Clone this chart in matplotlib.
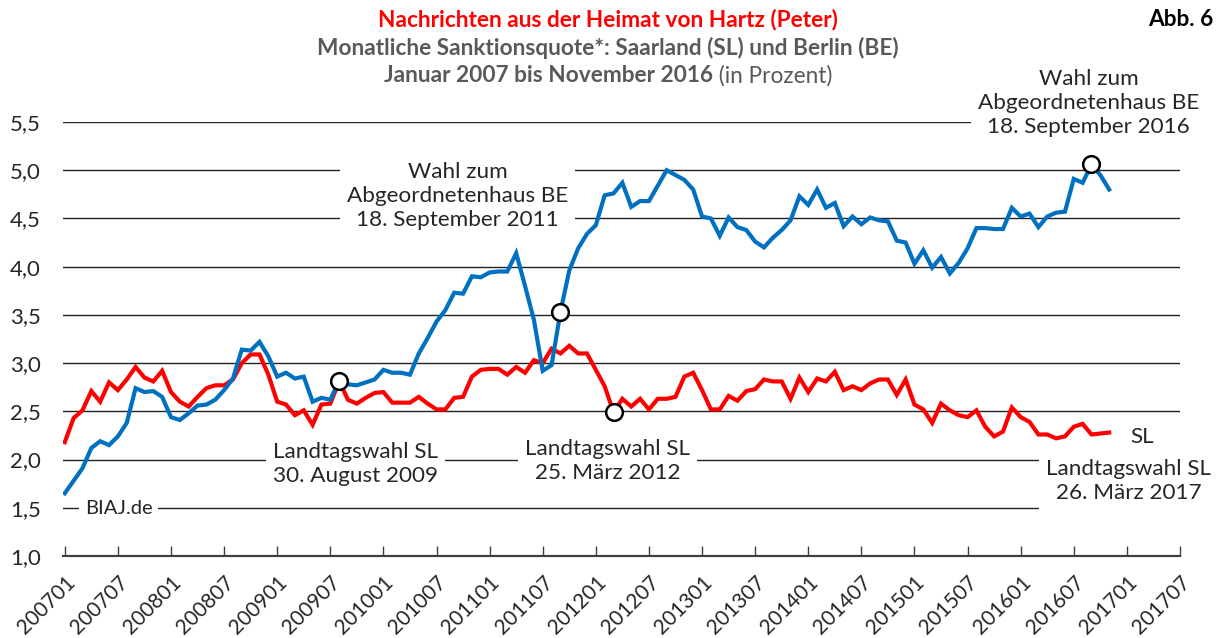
import matplotlib
matplotlib.use("Agg")
import matplotlib.pyplot as plt
import numpy as np

plt.rcParams['font.family'] = ['Lato', 'DejaVu Sans']

# ---- data (monthly sanction rate in %, Jan 2007 - Nov 2016) ----
be_values = [
    1.65, 1.78, 1.91, 2.12, 2.19, 2.15, 2.24, 2.38, 2.74, 2.70, 2.71, 2.65,
    2.44, 2.41, 2.48, 2.56, 2.57, 2.62, 2.72, 2.84, 3.14, 3.13, 3.22, 3.07,
    2.86, 2.90, 2.84, 2.86, 2.60, 2.64, 2.62, 2.82, 2.78, 2.77, 2.80, 2.83,
    2.93, 2.90, 2.90, 2.88, 3.10, 3.26, 3.43, 3.55, 3.73, 3.72, 3.90, 3.89,
    3.94, 3.95, 3.95, 4.14, 3.80, 3.45, 2.92, 2.98, 3.53, 3.96, 4.19, 4.34,
    4.43, 4.74, 4.76, 4.87, 4.62, 4.68, 4.68, 4.84, 5.00, 4.95, 4.90, 4.80,
    4.52, 4.50, 4.32, 4.51, 4.41, 4.38, 4.26, 4.20, 4.30, 4.38, 4.48, 4.73,
    4.64, 4.80, 4.61, 4.66, 4.42, 4.52, 4.44, 4.51, 4.48, 4.47, 4.27, 4.25,
    4.03, 4.17, 3.99, 4.10, 3.93, 4.04, 4.19, 4.40, 4.40, 4.39, 4.39, 4.61,
    4.52, 4.55, 4.41, 4.52, 4.56, 4.57, 4.91, 4.87, 5.06, 4.95, 4.80,
]
sl_values = [
    2.18, 2.43, 2.51, 2.71, 2.60, 2.80, 2.72, 2.83, 2.96, 2.85, 2.81, 2.92,
    2.70, 2.60, 2.55, 2.65, 2.74, 2.77, 2.77, 2.83, 3.00, 3.09, 3.09, 2.88,
    2.60, 2.57, 2.46, 2.51, 2.36, 2.57, 2.58, 2.81, 2.62, 2.58, 2.64, 2.69,
    2.70, 2.59, 2.59, 2.59, 2.65, 2.58, 2.52, 2.52, 2.64, 2.65, 2.86, 2.93,
    2.94, 2.94, 2.88, 2.96, 2.90, 3.03, 3.00, 3.15, 3.10, 3.18, 3.10, 3.10,
    2.93, 2.76, 2.49, 2.63, 2.55, 2.63, 2.52, 2.63, 2.63, 2.65, 2.86, 2.90,
    2.72, 2.52, 2.52, 2.66, 2.61, 2.71, 2.73, 2.83, 2.81, 2.81, 2.63, 2.85,
    2.70, 2.84, 2.81, 2.91, 2.72, 2.76, 2.72, 2.79, 2.83, 2.83, 2.67, 2.83,
    2.57, 2.52, 2.38, 2.58, 2.51, 2.46, 2.44, 2.51, 2.34, 2.24, 2.29, 2.54,
    2.44, 2.39, 2.26, 2.26, 2.22, 2.24, 2.34, 2.37, 2.26, 2.27, 2.28,
]
x_tick_labels = ['200701', '200707', '200801', '200807', '200901', '200907',
                 '201001', '201007', '201101', '201107', '201201', '201207',
                 '201301', '201307', '201401', '201407', '201501', '201507',
                 '201601', '201607', '201701', '201707']
y_ticks = [1.0, 1.5, 2.0, 2.5, 3.0, 3.5, 4.0, 4.5, 5.0, 5.5]
y_tick_labels = ['1,0', '1,5', '2,0', '2,5', '3,0', '3,5', '4,0', '4,5', '5,0', '5,5']

# election markers: month index
be_events = [56, 116]          # Sep 2011, Sep 2016
sl_events = [31, 62]           # Aug 2009, Mar 2012

# ---- figure ----
fig = plt.figure(figsize=(12.16, 6.38), dpi=100)
ax = fig.add_axes([63 / 1216, 1 - 556 / 638, (1180 - 63) / 1216, (556 - 122) / 638])

x = np.arange(len(be_values))
be = np.array(be_values)
sl = np.array(sl_values)

for yv in y_ticks[1:]:
    ax.axhline(yv, color='#222222', lw=1.0, zorder=1)

ax.plot(x, sl, color='#FF0000', lw=3.0, solid_joinstyle='miter', zorder=4)
ax.plot(x, be, color='#0070C0', lw=3.0, solid_joinstyle='miter', zorder=4)

ax.plot(np.array(be_events), be[be_events], 'o', ms=12, mfc='white', mec='black',
        mew=1.8, zorder=6)
ax.plot(np.array(sl_events), sl[sl_events], 'o', ms=12, mfc='white', mec='black',
        mew=1.8, zorder=6)

ax.set_xlim(-0.2, 126)
ax.set_ylim(1.0, 5.5)
ax.set_xticks(np.arange(0, 127, 6))
ax.set_xticklabels(x_tick_labels, rotation=45, ha='right', va='top',
                   rotation_mode='anchor', fontsize=15, color='#262626')
ax.set_yticks(y_ticks)
ax.set_yticklabels(y_tick_labels, fontsize=16, color='#262626')
ax.tick_params(axis='y', length=0, pad=16)
ax.tick_params(axis='x', direction='in', length=7, width=1.0, color='#404040', pad=12)
for s in ['top', 'right', 'left']:
    ax.spines[s].set_visible(False)
ax.spines['bottom'].set_color('#404040')
ax.spines['bottom'].set_linewidth(1.6)
ax.patch.set_alpha(0)

box = dict(facecolor='white', edgecolor='none', pad=5)
lab_kw = dict(ha='center', va='center', fontsize=16.2, color='#262626',
              linespacing=1.25, zorder=3, bbox=box)
ax.text(115.7, 5.70, 'Wahl zum\nAbgeordnetenhaus BE\n18. September 2016', clip_on=False, **lab_kw)
ax.text(44.4, 4.73, 'Wahl zum\nAbgeordnetenhaus BE\n18. September 2011', **lab_kw)
ax.text(32.8, 1.95, 'Landtagswahl SL\n30. August 2009', **lab_kw)
ax.text(61.3, 1.985, 'Landtagswahl SL\n25. März 2012', **lab_kw)
ax.text(120.2, 1.78, 'Landtagswahl SL\n26. März 2017', clip_on=False, **lab_kw)
ax.text(120.4, 2.23, 'SL', ha='left', va='center', fontsize=16.2, color='#262626', zorder=3)
ax.text(6.1, 1.49, 'BIAJ.de', ha='center', va='center', fontsize=14.5, color='#262626',
        zorder=3, bbox=dict(facecolor='white', edgecolor='none', pad=4))

# ---- titles ----
tfs = 16.3
fig.text(608 / 1216, 1 - 20 / 638, 'Nachrichten aus der Heimat von Hartz (Peter)',
         ha='center', va='center', fontsize=tfs, fontweight='bold', color='#FF0000')
fig.text(608 / 1216, 1 - 48 / 638, 'Monatliche Sanktionsquote*: Saarland (SL) und Berlin (BE)',
         ha='center', va='center', fontsize=tfs, fontweight='bold', color='#595959')
fig.text(1213 / 1216, 1 - 20 / 638, 'Abb. 6', ha='right', va='center', fontsize=tfs,
         fontweight='bold', color='#000000')

part1 = 'Januar 2007 bis November 2016'
part2 = ' (in Prozent)'
fig.canvas.draw()
r = fig.canvas.get_renderer()
t1 = fig.text(0, 1 - 76 / 638, part1, ha='left', va='center', fontsize=tfs,
              fontweight='bold', color='#595959')
t2 = fig.text(0, 1 - 76 / 638, part2, ha='left', va='center', fontsize=tfs,
              color='#595959')
w1 = t1.get_window_extent(r).width
w2 = t2.get_window_extent(r).width
x0 = 608 - (w1 + w2) / 2
t1.set_x(x0 / 1216)
t2.set_x((x0 + w1) / 1216)

fig.savefig('out.png', dpi=100)
